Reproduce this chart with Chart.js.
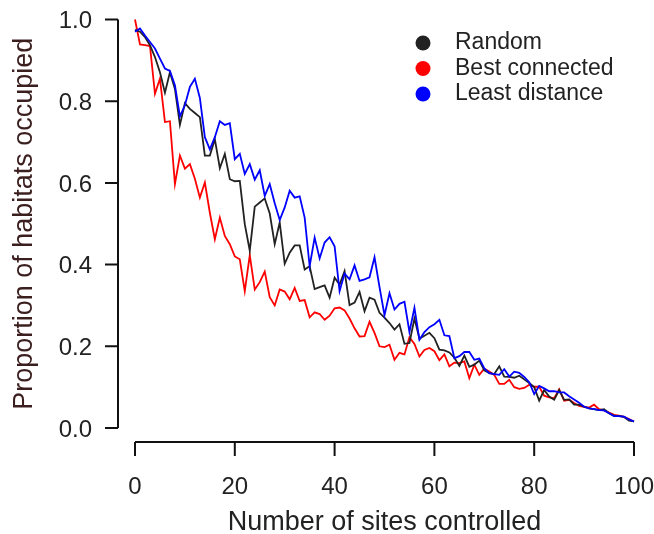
<!DOCTYPE html>
<html>
<head>
<meta charset="utf-8">
<script src="https://cdn.jsdelivr.net/npm/chart.js@4"></script>
<style>
  html, body { margin: 0; padding: 0; background: #fff; }
  #chart { display: block; }
</style>
</head>
<body>
<canvas id="chart" width="654" height="534"></canvas>
<script>
// number of sites controlled (x categories)
const sites = [
  0, 1, 2, 3, 4, 5, 6, 7, 8, 9, 10, 11, 12, 13, 14, 15, 16, 17, 18, 19,
  20, 21, 22, 23, 24, 25, 26, 27, 28, 29, 30, 31, 32, 33, 34, 35, 36, 37, 38, 39,
  40, 41, 42, 43, 44, 45, 46, 47, 48, 49, 50, 51, 52, 53, 54, 55, 56, 57, 58, 59,
  60, 61, 62, 63, 64, 65, 66, 67, 68, 69, 70, 71, 72, 73, 74, 75, 76, 77, 78, 79,
  80, 81, 82, 83, 84, 85, 86, 87, 88, 89, 90, 91, 92, 93, 94, 95, 96, 97, 98, 99, 100
];

const randomVals = [
  0.975, 0.970, 0.957, 0.937, 0.908, 0.871, 0.821, 0.871, 0.830, 0.742,
  0.795, 0.781, 0.771, 0.761, 0.667, 0.667, 0.707, 0.636, 0.671, 0.609,
  0.604, 0.605, 0.499, 0.434, 0.542, 0.552, 0.562, 0.525, 0.450, 0.503,
  0.402, 0.429, 0.447, 0.447, 0.388, 0.396, 0.340, 0.345, 0.349, 0.319,
  0.368, 0.351, 0.384, 0.301, 0.307, 0.333, 0.286, 0.319, 0.314, 0.282,
  0.270, 0.257, 0.241, 0.254, 0.206, 0.208, 0.268, 0.219, 0.226, 0.233,
  0.220, 0.192, 0.190, 0.185, 0.172, 0.152, 0.177, 0.150, 0.155, 0.165,
  0.141, 0.134, 0.132, 0.151, 0.126, 0.125, 0.123, 0.128, 0.119, 0.110,
  0.100, 0.067, 0.093, 0.077, 0.069, 0.093, 0.069, 0.070, 0.057, 0.057,
  0.052, 0.048, 0.046, 0.044, 0.046, 0.036, 0.030, 0.029, 0.027, 0.018, 0.016
];

const bestVals = [
  1.000, 0.939, 0.937, 0.935, 0.818, 0.855, 0.749, 0.751, 0.597, 0.667,
  0.635, 0.646, 0.610, 0.564, 0.601, 0.527, 0.462, 0.515, 0.470, 0.450,
  0.420, 0.413, 0.335, 0.423, 0.339, 0.357, 0.383, 0.320, 0.300, 0.339,
  0.334, 0.315, 0.343, 0.311, 0.313, 0.271, 0.283, 0.279, 0.265, 0.275,
  0.293, 0.295, 0.288, 0.268, 0.244, 0.224, 0.225, 0.260, 0.233, 0.200,
  0.198, 0.204, 0.167, 0.184, 0.180, 0.222, 0.206, 0.175, 0.191, 0.196,
  0.188, 0.166, 0.180, 0.151, 0.160, 0.159, 0.163, 0.122, 0.155, 0.130,
  0.145, 0.138, 0.130, 0.108, 0.108, 0.118, 0.100, 0.096, 0.098, 0.106,
  0.101, 0.101, 0.079, 0.075, 0.073, 0.095, 0.067, 0.069, 0.061, 0.054,
  0.052, 0.050, 0.057, 0.046, 0.043, 0.038, 0.032, 0.030, 0.027, 0.022, 0.016
];

const leastVals = [
  0.970, 0.978, 0.961, 0.945, 0.929, 0.904, 0.880, 0.874, 0.839, 0.763,
  0.790, 0.835, 0.855, 0.808, 0.712, 0.682, 0.712, 0.751, 0.742, 0.746,
  0.658, 0.671, 0.622, 0.646, 0.608, 0.631, 0.568, 0.597, 0.550, 0.509,
  0.540, 0.581, 0.564, 0.567, 0.515, 0.396, 0.466, 0.415, 0.454, 0.467,
  0.445, 0.335, 0.378, 0.364, 0.398, 0.360, 0.364, 0.369, 0.418, 0.345,
  0.276, 0.330, 0.290, 0.304, 0.309, 0.235, 0.294, 0.216, 0.235, 0.247,
  0.254, 0.265, 0.227, 0.225, 0.171, 0.176, 0.186, 0.186, 0.167, 0.170,
  0.146, 0.134, 0.132, 0.130, 0.144, 0.126, 0.138, 0.135, 0.125, 0.112,
  0.083, 0.103, 0.097, 0.090, 0.090, 0.087, 0.087, 0.078, 0.070, 0.062,
  0.052, 0.048, 0.046, 0.044, 0.043, 0.036, 0.029, 0.029, 0.028, 0.021, 0.016
];

const xTicks = [0, 20, 40, 60, 80, 100];
const yTicks = [0, 0.2, 0.4, 0.6, 0.8, 1.0];

const FONT = "'Liberation Sans', Arial, sans-serif";

function toPoints(vals) {
    return vals.map((v, i) => ({ x: sites[i], y: v }));
}

// R style axes, pulled away from the plot area
const detachedAxes = {
    id: 'detachedAxes',
    afterDraw(chart) {
        const ctx = chart.ctx;
        const xs = chart.scales.x;
        const ys = chart.scales.y;
        const area = chart.chartArea;
        const axX = area.left - 17;
        const axY = area.bottom + 14;
        ctx.save();
        ctx.strokeStyle = '#111';
        ctx.lineWidth = 2;
        ctx.beginPath();
        ctx.moveTo(axX, ys.getPixelForValue(yTicks[0]));
        ctx.lineTo(axX, ys.getPixelForValue(yTicks[yTicks.length - 1]));
        yTicks.forEach(t => {
            const py = ys.getPixelForValue(t);
            ctx.moveTo(axX - 13, py);
            ctx.lineTo(axX, py);
        });
        ctx.moveTo(xs.getPixelForValue(xTicks[0]), axY);
        ctx.lineTo(xs.getPixelForValue(xTicks[xTicks.length - 1]), axY);
        xTicks.forEach(t => {
            const px = xs.getPixelForValue(t);
            ctx.moveTo(px, axY);
            ctx.lineTo(px, axY + 14);
        });
        ctx.stroke();
        ctx.restore();
    }
};

const dotLegend = {
    id: 'dotLegend',
    afterDraw(chart) {
        const ctx = chart.ctx;
        const x0 = 423, y0 = 43, step = 25.5;
        ctx.save();
        ctx.font = '23px ' + FONT;
        ctx.textBaseline = 'middle';
        ctx.textAlign = 'left';
        chart.data.datasets.forEach((ds, i) => {
            const y = y0 + i * step;
            ctx.fillStyle = ds.borderColor;
            ctx.beginPath();
            ctx.arc(x0, y, 7.5, 0, Math.PI * 2);
            ctx.fill();
            ctx.fillStyle = '#222';
            ctx.fillText(ds.label, x0 + 32, y);
        });
        ctx.restore();
    }
};

new Chart(document.getElementById('chart'), {
    type: 'line',
    data: {
        datasets: [
            { label: 'Random', data: toPoints(randomVals), borderColor: '#222222', order: 1 },
            { label: 'Best connected', data: toPoints(bestVals), borderColor: '#ff0000', order: 2 },
            { label: 'Least distance', data: toPoints(leastVals), borderColor: '#0000ff', order: 0 }
        ]
    },
    options: {
        responsive: false,
        animation: false,
        devicePixelRatio: 1,
        layout: { padding: { top: 19.5, right: 20, left: 0, bottom: 0 } },
        elements: {
            line: { borderWidth: 1.8, tension: 0, fill: false },
            point: { radius: 0 }
        },
        datasets: { line: { clip: false } },
        plugins: { legend: { display: false }, tooltip: { enabled: false } },
        scales: {
            x: {
                type: 'linear',
                min: 0,
                max: 100,
                afterFit: s => { s.height = 106; s.paddingLeft = 0; s.paddingRight = 0; },
                afterBuildTicks: s => { s.ticks = xTicks.map(v => ({ value: v })); },
                grid: { display: false },
                border: { display: false },
                ticks: { padding: 37, color: '#222', font: { size: 24, family: FONT } },
                title: {
                    display: true,
                    text: 'Number of sites controlled',
                    color: '#222',
                    font: { size: 27, family: FONT, lineHeight: 0.85 },
                    padding: { top: 0, bottom: 0 }
                }
            },
            y: {
                min: 0,
                max: 1,
                afterFit: s => { s.width = 135; s.paddingTop = 0; s.paddingBottom = 0; },
                afterBuildTicks: s => { s.ticks = yTicks.map(v => ({ value: v })); },
                grid: { display: false },
                border: { display: false },
                ticks: {
                    padding: 35,
                    labelOffset: 2,
                    color: '#222',
                    font: { size: 24, family: FONT },
                    callback: v => v.toFixed(1)
                },
                title: {
                    display: true,
                    text: 'Proportion of habitats occupied',
                    color: '#3b1f1f',
                    font: { size: 27, family: FONT, lineHeight: 1.2 },
                    padding: { top: 8, bottom: 0 }
                }
            }
        }
    },
    plugins: [detachedAxes, dotLegend]
});
</script>
</body>
</html>
